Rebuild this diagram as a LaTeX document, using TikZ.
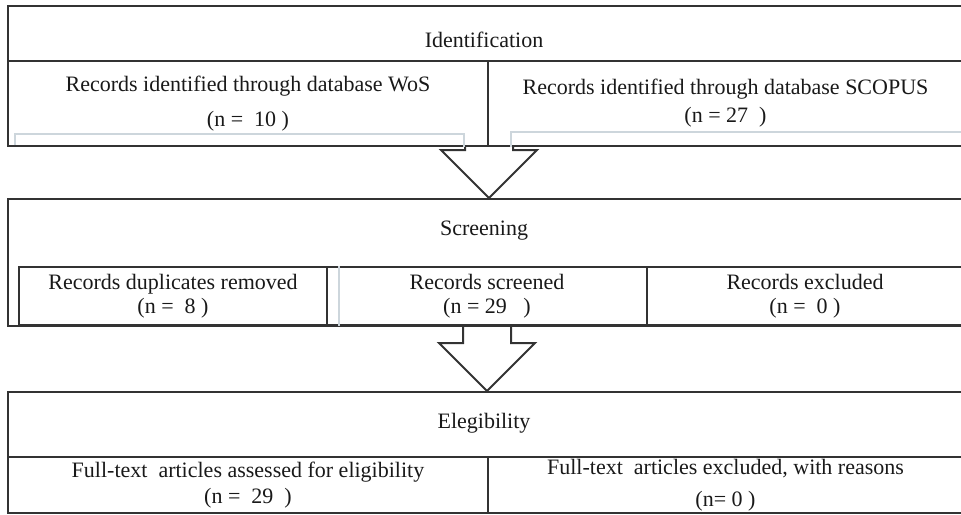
\documentclass[tikz,border=0pt]{standalone}
\usepackage{fontspec}
\setmainfont{Liberation Serif}
\usetikzlibrary{calc}
\definecolor{inkline}{HTML}{333333}
\definecolor{paleline}{HTML}{CDD6DC}
\begin{document}
\begin{tikzpicture}[x=0.5pt, y=-0.5pt,
    every node/.style = {font=\fontsize{11}{13}\selectfont, text=black!90},
    frame/.style = {draw=inkline, line width=1pt, anchor=north west, inner sep=0pt, minimum width=477.5pt},
    box/.style = {draw=inkline, line width=1pt, anchor=north west, inner sep=0pt, align=center},
    faint/.style = {draw=paleline, line width=0.8pt},
    blockarrow/.style = {draw=inkline, line width=1pt, line join=miter}]
    \useasboundingbox (0,0) rectangle (961,514);

    \node[frame, minimum height=70pt]   (identframe)  at (7,5)   {};
    \node[frame, minimum height=63.5pt] (screenframe) at (7,198) {};
    \node[frame, minimum height=60.5pt] (eligframe)   at (7,391) {};

    \node (identlbl)  at (484,40)  {Identification};
    \node (screenlbl) at (484,231) {Screening};
    \node (eliglbl)   at (484,423) {Elegibility};

    \node[box, minimum width=240pt, minimum height=42.5pt] (wos) at (7,60)
        {Records identified through database WoS\\[4.5pt](n =~~10 )};
    \node[box, minimum width=237.5pt, minimum height=42.5pt] (scopus) at (487,60)
        {Records identified through database SCOPUS\\[1pt](n = 27~~)};

    \node[box, minimum width=154pt, minimum height=29pt] (duplicates) at (18,266)
        {Records duplicates removed\\[-1pt](n =~~8 )};
    \node[box, minimum width=160pt, minimum height=29pt] (screened) at (326,266)
        {Records screened\\[-1pt](n = 29~~~)};
    \node[box, minimum width=158pt, minimum height=29pt] (excluded) at (646,266)
        {Records excluded\\[-1pt](n =~~0 )};

    \node[box, minimum width=240pt, minimum height=28pt] (assessed) at (7,456)
        {Full-text~ articles assessed for eligibility\\[0pt](n =~~29~~)};
    \node[box, minimum width=237.5pt, minimum height=28pt] (reasons) at (487,456)
        {Full-text~ articles excluded, with reasons\\[3pt](n= 0 )};

    \draw[faint] (15,145) |- ($(wos.south east)+(-25,-13)$) -- ($(wos.south east)+(-25,0)$);
    \draw[faint] ($(scopus.south west)+(24,0)$) |- (962,132);
    \draw[faint] ($(screened.north west)+(13,0)$) -- ($(screened.south west)+(13,0)$);

    \coordinate (tipa) at (wos.south east |- screenframe.north);
    \draw[blockarrow] ($(wos.south east)+(-24,0)$) |- ($(tipa)+(-48,-48)$) -- (tipa)
        -- ($(tipa)+(48,-48)$) -| ($(wos.south east)+(24,0)$);

    \coordinate (tipb) at (screened.south |- eligframe.north);
    \draw[blockarrow] ($(screened.south)+(-24,0)$) |- ($(tipb)+(-48,-48)$) -- (tipb)
        -- ($(tipb)+(48,-48)$) -| ($(screened.south)+(24,0)$);
\end{tikzpicture}
\end{document}
